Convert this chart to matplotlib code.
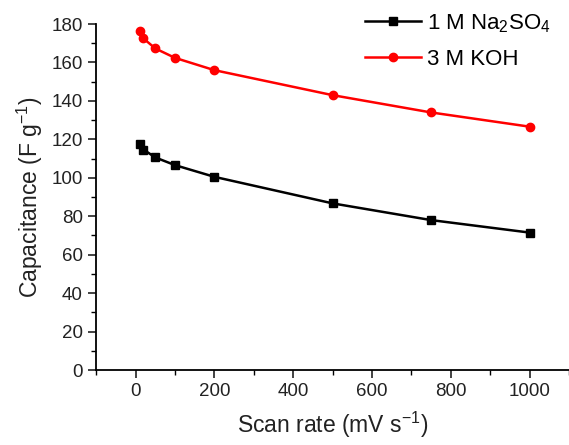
import matplotlib.pyplot as plt
from matplotlib.ticker import MultipleLocator

plt.rcParams['font.family'] = ['Liberation Sans', 'DejaVu Sans']
plt.rcParams['mathtext.default'] = 'regular'

scan_rate = [10, 20, 50, 100, 200, 500, 750, 1000]
na2so4 = [117.5, 114.7, 110.6, 106.6, 100.5, 86.7, 78.0, 71.5]
koh = [176.3, 172.5, 167.3, 162.4, 156.0, 143.0, 134.0, 126.6]

fig = plt.figure(figsize=(5.69, 4.45), dpi=100)
ax = fig.add_axes([0.169, 0.1685, 0.831, 0.7775])

ax.plot(scan_rate, na2so4, color='black', lw=1.8, marker='s', ms=6,
        label='1 M Na$_2$SO$_4$')
ax.plot(scan_rate, koh, color='red', lw=1.8, marker='o', ms=6,
        label='3 M KOH')

ax.set_xlim(-100, 1100)
ax.set_ylim(0, 180)
ax.xaxis.set_major_locator(MultipleLocator(200))
ax.xaxis.set_minor_locator(MultipleLocator(100))
ax.yaxis.set_major_locator(MultipleLocator(20))
ax.yaxis.set_minor_locator(MultipleLocator(10))

for s in ['top', 'right']:
    ax.spines[s].set_visible(False)
for s in ['left', 'bottom']:
    ax.spines[s].set_linewidth(1.3)

ax.tick_params(which='major', direction='out', length=6, width=1.2,
               labelsize=13.5, colors='#222222')
ax.tick_params(which='minor', direction='out', length=3.5, width=1.0)

ax.set_xlabel('Scan rate (mV s$^{-1}$)', fontsize=16.5, color='#222222',
              labelpad=7)
ax.set_ylabel('Capacitance (F g$^{-1}$)', fontsize=16.5, color='#222222',
              labelpad=5)

ax.legend(loc='upper right', bbox_to_anchor=(0.995, 1.08), frameon=False,
          fontsize=16, handlelength=2.5, handletextpad=0.3, labelspacing=0.65,
          borderaxespad=0.3)

fig.savefig('out.png', dpi=100)
